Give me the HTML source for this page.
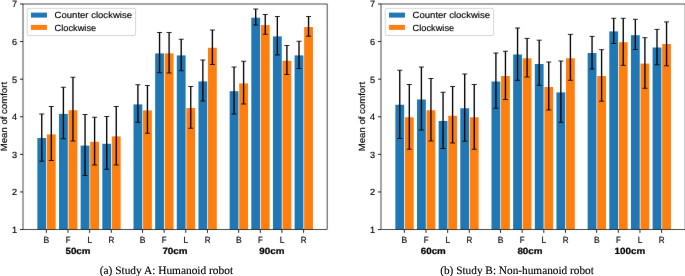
<!DOCTYPE html>
<html lang="en">
<head>
<meta charset="utf-8">
<title>Mean of comfort</title>
<style>
html,body{margin:0;padding:0;background:#fff;}
body{width:685px;height:276px;overflow:hidden;font-family:"Liberation Sans",sans-serif;}
svg{display:block;will-change:transform;text-rendering:geometricPrecision;}
</style>
</head>
<body>
<svg width="685" height="276" viewBox="0 0 685 276">
<defs><filter id="b" filterUnits="userSpaceOnUse" x="-5" y="-5" width="695" height="286" color-interpolation-filters="sRGB"><feConvolveMatrix order="3" kernelMatrix="0.00160 0.03680 0.00160 0.03680 0.84640 0.03680 0.00160 0.03680 0.00160" divisor="1" edgeMode="duplicate" preserveAlpha="true"/></filter></defs>
<rect width="685" height="276" fill="#fff"/>
<g filter="url(#b)">
<rect x="-5" y="-5" width="695" height="286" fill="#fff"/>
<g transform="translate(0,0)">
<rect x="37.35" y="138" width="8.8" height="91.55" fill="#1f77b4"/>
<rect x="46.9" y="134.4" width="8.8" height="95.15" fill="#ff7f0e"/>
<rect x="59" y="113.9" width="8.8" height="115.65" fill="#1f77b4"/>
<rect x="68.55" y="110.2" width="8.8" height="119.35" fill="#ff7f0e"/>
<rect x="80.65" y="145.6" width="8.8" height="83.95" fill="#1f77b4"/>
<rect x="90.2" y="141.8" width="8.8" height="87.75" fill="#ff7f0e"/>
<rect x="102.3" y="143.8" width="8.8" height="85.75" fill="#1f77b4"/>
<rect x="111.85" y="136.4" width="8.8" height="93.15" fill="#ff7f0e"/>
<rect x="133.5" y="104.4" width="8.8" height="125.15" fill="#1f77b4"/>
<rect x="143.05" y="110.4" width="8.8" height="119.15" fill="#ff7f0e"/>
<rect x="155.15" y="53.4" width="8.8" height="176.15" fill="#1f77b4"/>
<rect x="164.7" y="53.4" width="8.8" height="176.15" fill="#ff7f0e"/>
<rect x="176.8" y="55.4" width="8.8" height="174.15" fill="#1f77b4"/>
<rect x="186.35" y="108" width="8.8" height="121.55" fill="#ff7f0e"/>
<rect x="198.45" y="81.4" width="8.8" height="148.15" fill="#1f77b4"/>
<rect x="208" y="47.8" width="8.8" height="181.75" fill="#ff7f0e"/>
<rect x="229.65" y="91.2" width="8.8" height="138.35" fill="#1f77b4"/>
<rect x="239.2" y="83.4" width="8.8" height="146.15" fill="#ff7f0e"/>
<rect x="251.3" y="17.7" width="8.8" height="211.85" fill="#1f77b4"/>
<rect x="260.85" y="25.1" width="8.8" height="204.45" fill="#ff7f0e"/>
<rect x="272.95" y="36.4" width="8.8" height="193.15" fill="#1f77b4"/>
<rect x="282.5" y="60.8" width="8.8" height="168.75" fill="#ff7f0e"/>
<rect x="294.6" y="55.4" width="8.8" height="174.15" fill="#1f77b4"/>
<rect x="304.15" y="27" width="8.8" height="202.55" fill="#ff7f0e"/>
<path d="M41.75 114V161.25" stroke="#000" stroke-width="1.35" fill="none"/>
<path d="M39.25 114H44.25M39.25 161.25H44.25" stroke="#000" stroke-width="0.85" fill="none"/>
<path d="M51.3 106.5V160.5" stroke="#000" stroke-width="1.35" fill="none"/>
<path d="M48.8 106.5H53.8M48.8 160.5H53.8" stroke="#000" stroke-width="0.85" fill="none"/>
<path d="M63.4 87.25V138.75" stroke="#000" stroke-width="1.35" fill="none"/>
<path d="M60.9 87.25H65.9M60.9 138.75H65.9" stroke="#000" stroke-width="0.85" fill="none"/>
<path d="M72.95 77.25V141" stroke="#000" stroke-width="1.35" fill="none"/>
<path d="M70.45 77.25H75.45M70.45 141H75.45" stroke="#000" stroke-width="0.85" fill="none"/>
<path d="M85.05 114.5V175.5" stroke="#000" stroke-width="1.35" fill="none"/>
<path d="M82.55 114.5H87.55M82.55 175.5H87.55" stroke="#000" stroke-width="0.85" fill="none"/>
<path d="M94.6 117.25V165" stroke="#000" stroke-width="1.35" fill="none"/>
<path d="M92.1 117.25H97.1M92.1 165H97.1" stroke="#000" stroke-width="0.85" fill="none"/>
<path d="M106.7 116.5V169.25" stroke="#000" stroke-width="1.35" fill="none"/>
<path d="M104.2 116.5H109.2M104.2 169.25H109.2" stroke="#000" stroke-width="0.85" fill="none"/>
<path d="M116.25 106.5V165" stroke="#000" stroke-width="1.35" fill="none"/>
<path d="M113.75 106.5H118.75M113.75 165H118.75" stroke="#000" stroke-width="0.85" fill="none"/>
<path d="M137.9 84.75V122.25" stroke="#000" stroke-width="1.35" fill="none"/>
<path d="M135.4 84.75H140.4M135.4 122.25H140.4" stroke="#000" stroke-width="0.85" fill="none"/>
<path d="M147.45 85.5V133.25" stroke="#000" stroke-width="1.35" fill="none"/>
<path d="M144.95 85.5H149.95M144.95 133.25H149.95" stroke="#000" stroke-width="0.85" fill="none"/>
<path d="M159.55 32.5V72.75" stroke="#000" stroke-width="1.35" fill="none"/>
<path d="M157.05 32.5H162.05M157.05 72.75H162.05" stroke="#000" stroke-width="0.85" fill="none"/>
<path d="M169.1 32.5V73" stroke="#000" stroke-width="1.35" fill="none"/>
<path d="M166.6 32.5H171.6M166.6 73H171.6" stroke="#000" stroke-width="0.85" fill="none"/>
<path d="M181.2 39.25V70.75" stroke="#000" stroke-width="1.35" fill="none"/>
<path d="M178.7 39.25H183.7M178.7 70.75H183.7" stroke="#000" stroke-width="0.85" fill="none"/>
<path d="M190.75 86.5V128.25" stroke="#000" stroke-width="1.35" fill="none"/>
<path d="M188.25 86.5H193.25M188.25 128.25H193.25" stroke="#000" stroke-width="0.85" fill="none"/>
<path d="M202.85 60V101" stroke="#000" stroke-width="1.35" fill="none"/>
<path d="M200.35 60H205.35M200.35 101H205.35" stroke="#000" stroke-width="0.85" fill="none"/>
<path d="M212.4 30V64.5" stroke="#000" stroke-width="1.35" fill="none"/>
<path d="M209.9 30H214.9M209.9 64.5H214.9" stroke="#000" stroke-width="0.85" fill="none"/>
<path d="M234.05 67V114" stroke="#000" stroke-width="1.35" fill="none"/>
<path d="M231.55 67H236.55M231.55 114H236.55" stroke="#000" stroke-width="0.85" fill="none"/>
<path d="M243.6 61.25V104" stroke="#000" stroke-width="1.35" fill="none"/>
<path d="M241.1 61.25H246.1M241.1 104H246.1" stroke="#000" stroke-width="0.85" fill="none"/>
<path d="M255.7 9V25" stroke="#000" stroke-width="1.35" fill="none"/>
<path d="M253.2 9H258.2M253.2 25H258.2" stroke="#000" stroke-width="0.85" fill="none"/>
<path d="M265.25 14.5V34.25" stroke="#000" stroke-width="1.35" fill="none"/>
<path d="M262.75 14.5H267.75M262.75 34.25H267.75" stroke="#000" stroke-width="0.85" fill="none"/>
<path d="M277.35 16.5V55" stroke="#000" stroke-width="1.35" fill="none"/>
<path d="M274.85 16.5H279.85M274.85 55H279.85" stroke="#000" stroke-width="0.85" fill="none"/>
<path d="M286.9 45.5V74.5" stroke="#000" stroke-width="1.35" fill="none"/>
<path d="M284.4 45.5H289.4M284.4 74.5H289.4" stroke="#000" stroke-width="0.85" fill="none"/>
<path d="M299 41.25V68.5" stroke="#000" stroke-width="1.35" fill="none"/>
<path d="M296.5 41.25H301.5M296.5 68.5H301.5" stroke="#000" stroke-width="0.85" fill="none"/>
<path d="M308.55 16.5V36.25" stroke="#000" stroke-width="1.35" fill="none"/>
<path d="M306.05 16.5H311.05M306.05 36.25H311.05" stroke="#000" stroke-width="0.85" fill="none"/>
<rect x="23" y="4" width="304.15" height="225.55" fill="none" stroke="#000" stroke-width="0.7"/>
<path d="M20 229.55H23" stroke="#000" stroke-width="0.85"/>
<text x="17.2" y="233" text-anchor="end" font-family="Liberation Sans, sans-serif" stroke="#000" stroke-linejoin="round" stroke-width="0.16" font-size="9.0" textLength="5.1" lengthAdjust="spacingAndGlyphs" fill="#000">1</text>
<path d="M20 191.96H23" stroke="#000" stroke-width="0.85"/>
<text x="17.2" y="195.41" text-anchor="end" font-family="Liberation Sans, sans-serif" stroke="#000" stroke-linejoin="round" stroke-width="0.16" font-size="9.0" textLength="5.1" lengthAdjust="spacingAndGlyphs" fill="#000">2</text>
<path d="M20 154.37H23" stroke="#000" stroke-width="0.85"/>
<text x="17.2" y="157.82" text-anchor="end" font-family="Liberation Sans, sans-serif" stroke="#000" stroke-linejoin="round" stroke-width="0.16" font-size="9.0" textLength="5.1" lengthAdjust="spacingAndGlyphs" fill="#000">3</text>
<path d="M20 116.77H23" stroke="#000" stroke-width="0.85"/>
<text x="17.2" y="120.22" text-anchor="end" font-family="Liberation Sans, sans-serif" stroke="#000" stroke-linejoin="round" stroke-width="0.16" font-size="9.0" textLength="5.1" lengthAdjust="spacingAndGlyphs" fill="#000">4</text>
<path d="M20 79.18H23" stroke="#000" stroke-width="0.85"/>
<text x="17.2" y="82.63" text-anchor="end" font-family="Liberation Sans, sans-serif" stroke="#000" stroke-linejoin="round" stroke-width="0.16" font-size="9.0" textLength="5.1" lengthAdjust="spacingAndGlyphs" fill="#000">5</text>
<path d="M20 41.59H23" stroke="#000" stroke-width="0.85"/>
<text x="17.2" y="45.04" text-anchor="end" font-family="Liberation Sans, sans-serif" stroke="#000" stroke-linejoin="round" stroke-width="0.16" font-size="9.0" textLength="5.1" lengthAdjust="spacingAndGlyphs" fill="#000">6</text>
<path d="M20 4H23" stroke="#000" stroke-width="0.85"/>
<text x="17.2" y="7.45" text-anchor="end" font-family="Liberation Sans, sans-serif" stroke="#000" stroke-linejoin="round" stroke-width="0.16" font-size="9.0" textLength="5.1" lengthAdjust="spacingAndGlyphs" fill="#000">7</text>
<path d="M46.35 229.55V232.85" stroke="#000" stroke-width="0.85"/>
<text x="43.58" y="242.8" font-family="Liberation Sans, sans-serif" stroke="#000" stroke-linejoin="round" stroke-width="0.16" font-size="9.0" textLength="5.75" lengthAdjust="spacingAndGlyphs" fill="#000">B</text>
<path d="M68 229.55V232.85" stroke="#000" stroke-width="0.85"/>
<text x="65.7" y="242.8" font-family="Liberation Sans, sans-serif" stroke="#000" stroke-linejoin="round" stroke-width="0.16" font-size="9.0" textLength="4.8" lengthAdjust="spacingAndGlyphs" fill="#000">F</text>
<path d="M89.65 229.55V232.85" stroke="#000" stroke-width="0.85"/>
<text x="87.42" y="242.8" font-family="Liberation Sans, sans-serif" stroke="#000" stroke-linejoin="round" stroke-width="0.16" font-size="9.0" textLength="4.65" lengthAdjust="spacingAndGlyphs" fill="#000">L</text>
<path d="M111.3 229.55V232.85" stroke="#000" stroke-width="0.85"/>
<text x="108.5" y="242.8" font-family="Liberation Sans, sans-serif" stroke="#000" stroke-linejoin="round" stroke-width="0.16" font-size="9.0" textLength="5.8" lengthAdjust="spacingAndGlyphs" fill="#000">R</text>
<path d="M142.5 229.55V232.85" stroke="#000" stroke-width="0.85"/>
<text x="139.72" y="242.8" font-family="Liberation Sans, sans-serif" stroke="#000" stroke-linejoin="round" stroke-width="0.16" font-size="9.0" textLength="5.75" lengthAdjust="spacingAndGlyphs" fill="#000">B</text>
<path d="M164.15 229.55V232.85" stroke="#000" stroke-width="0.85"/>
<text x="161.85" y="242.8" font-family="Liberation Sans, sans-serif" stroke="#000" stroke-linejoin="round" stroke-width="0.16" font-size="9.0" textLength="4.8" lengthAdjust="spacingAndGlyphs" fill="#000">F</text>
<path d="M185.8 229.55V232.85" stroke="#000" stroke-width="0.85"/>
<text x="183.58" y="242.8" font-family="Liberation Sans, sans-serif" stroke="#000" stroke-linejoin="round" stroke-width="0.16" font-size="9.0" textLength="4.65" lengthAdjust="spacingAndGlyphs" fill="#000">L</text>
<path d="M207.45 229.55V232.85" stroke="#000" stroke-width="0.85"/>
<text x="204.65" y="242.8" font-family="Liberation Sans, sans-serif" stroke="#000" stroke-linejoin="round" stroke-width="0.16" font-size="9.0" textLength="5.8" lengthAdjust="spacingAndGlyphs" fill="#000">R</text>
<path d="M238.65 229.55V232.85" stroke="#000" stroke-width="0.85"/>
<text x="235.88" y="242.8" font-family="Liberation Sans, sans-serif" stroke="#000" stroke-linejoin="round" stroke-width="0.16" font-size="9.0" textLength="5.75" lengthAdjust="spacingAndGlyphs" fill="#000">B</text>
<path d="M260.3 229.55V232.85" stroke="#000" stroke-width="0.85"/>
<text x="258" y="242.8" font-family="Liberation Sans, sans-serif" stroke="#000" stroke-linejoin="round" stroke-width="0.16" font-size="9.0" textLength="4.8" lengthAdjust="spacingAndGlyphs" fill="#000">F</text>
<path d="M281.95 229.55V232.85" stroke="#000" stroke-width="0.85"/>
<text x="279.73" y="242.8" font-family="Liberation Sans, sans-serif" stroke="#000" stroke-linejoin="round" stroke-width="0.16" font-size="9.0" textLength="4.65" lengthAdjust="spacingAndGlyphs" fill="#000">L</text>
<path d="M303.6 229.55V232.85" stroke="#000" stroke-width="0.85"/>
<text x="300.8" y="242.8" font-family="Liberation Sans, sans-serif" stroke="#000" stroke-linejoin="round" stroke-width="0.16" font-size="9.0" textLength="5.8" lengthAdjust="spacingAndGlyphs" fill="#000">R</text>
<text x="65.5" y="253.9" font-family="Liberation Sans, sans-serif" stroke="#000" stroke-linejoin="round" stroke-width="0.22" font-weight="bold" font-size="9.0" textLength="25.0" lengthAdjust="spacingAndGlyphs" fill="#000">50cm</text>
<text x="162.4" y="253.9" font-family="Liberation Sans, sans-serif" stroke="#000" stroke-linejoin="round" stroke-width="0.22" font-weight="bold" font-size="9.0" textLength="25.2" lengthAdjust="spacingAndGlyphs" fill="#000">70cm</text>
<text x="259.3" y="253.9" font-family="Liberation Sans, sans-serif" stroke="#000" stroke-linejoin="round" stroke-width="0.22" font-weight="bold" font-size="9.0" textLength="25.2" lengthAdjust="spacingAndGlyphs" fill="#000">90cm</text>
<text transform="translate(7.0,151.25) rotate(-90)" font-family="Liberation Sans, sans-serif" stroke="#000" stroke-linejoin="round" stroke-width="0.16" font-size="9.0" textLength="69.3" lengthAdjust="spacingAndGlyphs" fill="#000">Mean of comfort</text>
<rect x="27.2" y="8.35" width="108.4" height="27.2" rx="1.6" ry="1.6" fill="#fff" fill-opacity="0.8" stroke="#ccc" stroke-width="0.8"/>
<rect x="31" y="12.6" width="16" height="5.0" fill="#1f77b4"/>
<rect x="31" y="24.9" width="16" height="5.0" fill="#ff7f0e"/>
<text x="54.6" y="18.3" font-family="Liberation Sans, sans-serif" stroke="#000" stroke-linejoin="round" stroke-width="0.16" font-size="9.0" textLength="77.4" lengthAdjust="spacingAndGlyphs" fill="#000">Counter clockwise</text>
<text x="54.6" y="30.75" font-family="Liberation Sans, sans-serif" stroke="#000" stroke-linejoin="round" stroke-width="0.16" font-size="9.0" textLength="41.6" lengthAdjust="spacingAndGlyphs" fill="#000">Clockwise</text>
</g>
<g transform="translate(358,0)">
<rect x="37.35" y="104.75" width="8.8" height="124.8" fill="#1f77b4"/>
<rect x="46.9" y="117.25" width="8.8" height="112.3" fill="#ff7f0e"/>
<rect x="59" y="99.5" width="8.8" height="130.05" fill="#1f77b4"/>
<rect x="68.55" y="110.25" width="8.8" height="119.3" fill="#ff7f0e"/>
<rect x="80.65" y="121" width="8.8" height="108.55" fill="#1f77b4"/>
<rect x="90.2" y="115.75" width="8.8" height="113.8" fill="#ff7f0e"/>
<rect x="102.3" y="108.25" width="8.8" height="121.3" fill="#1f77b4"/>
<rect x="111.85" y="117.25" width="8.8" height="112.3" fill="#ff7f0e"/>
<rect x="133.5" y="81.5" width="8.8" height="148.05" fill="#1f77b4"/>
<rect x="143.05" y="76" width="8.8" height="153.55" fill="#ff7f0e"/>
<rect x="155.15" y="54.5" width="8.8" height="175.05" fill="#1f77b4"/>
<rect x="164.7" y="58.3" width="8.8" height="171.25" fill="#ff7f0e"/>
<rect x="176.8" y="64" width="8.8" height="165.55" fill="#1f77b4"/>
<rect x="186.35" y="87" width="8.8" height="142.55" fill="#ff7f0e"/>
<rect x="198.45" y="92.4" width="8.8" height="137.15" fill="#1f77b4"/>
<rect x="208" y="58.3" width="8.8" height="171.25" fill="#ff7f0e"/>
<rect x="229.65" y="53" width="8.8" height="176.55" fill="#1f77b4"/>
<rect x="239.2" y="76" width="8.8" height="153.55" fill="#ff7f0e"/>
<rect x="251.3" y="31.4" width="8.8" height="198.15" fill="#1f77b4"/>
<rect x="260.85" y="42.2" width="8.8" height="187.35" fill="#ff7f0e"/>
<rect x="272.95" y="35.2" width="8.8" height="194.35" fill="#1f77b4"/>
<rect x="282.5" y="63.6" width="8.8" height="165.95" fill="#ff7f0e"/>
<rect x="294.6" y="47.5" width="8.8" height="182.05" fill="#1f77b4"/>
<rect x="304.15" y="44" width="8.8" height="185.55" fill="#ff7f0e"/>
<path d="M41.75 70.25V138.5" stroke="#000" stroke-width="1.35" fill="none"/>
<path d="M39.25 70.25H44.25M39.25 138.5H44.25" stroke="#000" stroke-width="0.85" fill="none"/>
<path d="M51.3 84.5V149.25" stroke="#000" stroke-width="1.35" fill="none"/>
<path d="M48.8 84.5H53.8M48.8 149.25H53.8" stroke="#000" stroke-width="0.85" fill="none"/>
<path d="M63.4 67V130" stroke="#000" stroke-width="1.35" fill="none"/>
<path d="M60.9 67H65.9M60.9 130H65.9" stroke="#000" stroke-width="0.85" fill="none"/>
<path d="M72.95 78.5V141" stroke="#000" stroke-width="1.35" fill="none"/>
<path d="M70.45 78.5H75.45M70.45 141H75.45" stroke="#000" stroke-width="0.85" fill="none"/>
<path d="M85.05 92.25V148.5" stroke="#000" stroke-width="1.35" fill="none"/>
<path d="M82.55 92.25H87.55M82.55 148.5H87.55" stroke="#000" stroke-width="0.85" fill="none"/>
<path d="M94.6 86.5V143" stroke="#000" stroke-width="1.35" fill="none"/>
<path d="M92.1 86.5H97.1M92.1 143H97.1" stroke="#000" stroke-width="0.85" fill="none"/>
<path d="M106.7 74V141.25" stroke="#000" stroke-width="1.35" fill="none"/>
<path d="M104.2 74H109.2M104.2 141.25H109.2" stroke="#000" stroke-width="0.85" fill="none"/>
<path d="M116.25 84.5V149.25" stroke="#000" stroke-width="1.35" fill="none"/>
<path d="M113.75 84.5H118.75M113.75 149.25H118.75" stroke="#000" stroke-width="0.85" fill="none"/>
<path d="M137.9 53V108.25" stroke="#000" stroke-width="1.35" fill="none"/>
<path d="M135.4 53H140.4M135.4 108.25H140.4" stroke="#000" stroke-width="0.85" fill="none"/>
<path d="M147.45 51.25V99.5" stroke="#000" stroke-width="1.35" fill="none"/>
<path d="M144.95 51.25H149.95M144.95 99.5H149.95" stroke="#000" stroke-width="0.85" fill="none"/>
<path d="M159.55 28V80.3" stroke="#000" stroke-width="1.35" fill="none"/>
<path d="M157.05 28H162.05M157.05 80.3H162.05" stroke="#000" stroke-width="0.85" fill="none"/>
<path d="M169.1 38.4V77" stroke="#000" stroke-width="1.35" fill="none"/>
<path d="M166.6 38.4H171.6M166.6 77H171.6" stroke="#000" stroke-width="0.85" fill="none"/>
<path d="M181.2 40.2V85.3" stroke="#000" stroke-width="1.35" fill="none"/>
<path d="M178.7 40.2H183.7M178.7 85.3H183.7" stroke="#000" stroke-width="0.85" fill="none"/>
<path d="M190.75 62V110" stroke="#000" stroke-width="1.35" fill="none"/>
<path d="M188.25 62H193.25M188.25 110H193.25" stroke="#000" stroke-width="0.85" fill="none"/>
<path d="M202.85 61V122.3" stroke="#000" stroke-width="1.35" fill="none"/>
<path d="M200.35 61H205.35M200.35 122.3H205.35" stroke="#000" stroke-width="0.85" fill="none"/>
<path d="M212.4 34.4V80.3" stroke="#000" stroke-width="1.35" fill="none"/>
<path d="M209.9 34.4H214.9M209.9 80.3H214.9" stroke="#000" stroke-width="0.85" fill="none"/>
<path d="M234.05 36.4V69" stroke="#000" stroke-width="1.35" fill="none"/>
<path d="M231.55 36.4H236.55M231.55 69H236.55" stroke="#000" stroke-width="0.85" fill="none"/>
<path d="M243.6 49.7V101.2" stroke="#000" stroke-width="1.35" fill="none"/>
<path d="M241.1 49.7H246.1M241.1 101.2H246.1" stroke="#000" stroke-width="0.85" fill="none"/>
<path d="M255.7 18.3V43.5" stroke="#000" stroke-width="1.35" fill="none"/>
<path d="M253.2 18.3H258.2M253.2 43.5H258.2" stroke="#000" stroke-width="0.85" fill="none"/>
<path d="M265.25 18.3V65.3" stroke="#000" stroke-width="1.35" fill="none"/>
<path d="M262.75 18.3H267.75M262.75 65.3H267.75" stroke="#000" stroke-width="0.85" fill="none"/>
<path d="M277.35 19.3V49.5" stroke="#000" stroke-width="1.35" fill="none"/>
<path d="M274.85 19.3H279.85M274.85 49.5H279.85" stroke="#000" stroke-width="0.85" fill="none"/>
<path d="M286.9 37.7V88.3" stroke="#000" stroke-width="1.35" fill="none"/>
<path d="M284.4 37.7H289.4M284.4 88.3H289.4" stroke="#000" stroke-width="0.85" fill="none"/>
<path d="M299 29.4V64.8" stroke="#000" stroke-width="1.35" fill="none"/>
<path d="M296.5 29.4H301.5M296.5 64.8H301.5" stroke="#000" stroke-width="0.85" fill="none"/>
<path d="M308.55 21.9V65.8" stroke="#000" stroke-width="1.35" fill="none"/>
<path d="M306.05 21.9H311.05M306.05 65.8H311.05" stroke="#000" stroke-width="0.85" fill="none"/>
<rect x="23" y="4" width="304.15" height="225.55" fill="none" stroke="#000" stroke-width="0.7"/>
<path d="M20 229.55H23" stroke="#000" stroke-width="0.85"/>
<text x="17.2" y="233" text-anchor="end" font-family="Liberation Sans, sans-serif" stroke="#000" stroke-linejoin="round" stroke-width="0.16" font-size="9.0" textLength="5.1" lengthAdjust="spacingAndGlyphs" fill="#000">1</text>
<path d="M20 191.96H23" stroke="#000" stroke-width="0.85"/>
<text x="17.2" y="195.41" text-anchor="end" font-family="Liberation Sans, sans-serif" stroke="#000" stroke-linejoin="round" stroke-width="0.16" font-size="9.0" textLength="5.1" lengthAdjust="spacingAndGlyphs" fill="#000">2</text>
<path d="M20 154.37H23" stroke="#000" stroke-width="0.85"/>
<text x="17.2" y="157.82" text-anchor="end" font-family="Liberation Sans, sans-serif" stroke="#000" stroke-linejoin="round" stroke-width="0.16" font-size="9.0" textLength="5.1" lengthAdjust="spacingAndGlyphs" fill="#000">3</text>
<path d="M20 116.77H23" stroke="#000" stroke-width="0.85"/>
<text x="17.2" y="120.22" text-anchor="end" font-family="Liberation Sans, sans-serif" stroke="#000" stroke-linejoin="round" stroke-width="0.16" font-size="9.0" textLength="5.1" lengthAdjust="spacingAndGlyphs" fill="#000">4</text>
<path d="M20 79.18H23" stroke="#000" stroke-width="0.85"/>
<text x="17.2" y="82.63" text-anchor="end" font-family="Liberation Sans, sans-serif" stroke="#000" stroke-linejoin="round" stroke-width="0.16" font-size="9.0" textLength="5.1" lengthAdjust="spacingAndGlyphs" fill="#000">5</text>
<path d="M20 41.59H23" stroke="#000" stroke-width="0.85"/>
<text x="17.2" y="45.04" text-anchor="end" font-family="Liberation Sans, sans-serif" stroke="#000" stroke-linejoin="round" stroke-width="0.16" font-size="9.0" textLength="5.1" lengthAdjust="spacingAndGlyphs" fill="#000">6</text>
<path d="M20 4H23" stroke="#000" stroke-width="0.85"/>
<text x="17.2" y="7.45" text-anchor="end" font-family="Liberation Sans, sans-serif" stroke="#000" stroke-linejoin="round" stroke-width="0.16" font-size="9.0" textLength="5.1" lengthAdjust="spacingAndGlyphs" fill="#000">7</text>
<path d="M46.35 229.55V232.85" stroke="#000" stroke-width="0.85"/>
<text x="43.58" y="242.8" font-family="Liberation Sans, sans-serif" stroke="#000" stroke-linejoin="round" stroke-width="0.16" font-size="9.0" textLength="5.75" lengthAdjust="spacingAndGlyphs" fill="#000">B</text>
<path d="M68 229.55V232.85" stroke="#000" stroke-width="0.85"/>
<text x="65.7" y="242.8" font-family="Liberation Sans, sans-serif" stroke="#000" stroke-linejoin="round" stroke-width="0.16" font-size="9.0" textLength="4.8" lengthAdjust="spacingAndGlyphs" fill="#000">F</text>
<path d="M89.65 229.55V232.85" stroke="#000" stroke-width="0.85"/>
<text x="87.42" y="242.8" font-family="Liberation Sans, sans-serif" stroke="#000" stroke-linejoin="round" stroke-width="0.16" font-size="9.0" textLength="4.65" lengthAdjust="spacingAndGlyphs" fill="#000">L</text>
<path d="M111.3 229.55V232.85" stroke="#000" stroke-width="0.85"/>
<text x="108.5" y="242.8" font-family="Liberation Sans, sans-serif" stroke="#000" stroke-linejoin="round" stroke-width="0.16" font-size="9.0" textLength="5.8" lengthAdjust="spacingAndGlyphs" fill="#000">R</text>
<path d="M142.5 229.55V232.85" stroke="#000" stroke-width="0.85"/>
<text x="139.72" y="242.8" font-family="Liberation Sans, sans-serif" stroke="#000" stroke-linejoin="round" stroke-width="0.16" font-size="9.0" textLength="5.75" lengthAdjust="spacingAndGlyphs" fill="#000">B</text>
<path d="M164.15 229.55V232.85" stroke="#000" stroke-width="0.85"/>
<text x="161.85" y="242.8" font-family="Liberation Sans, sans-serif" stroke="#000" stroke-linejoin="round" stroke-width="0.16" font-size="9.0" textLength="4.8" lengthAdjust="spacingAndGlyphs" fill="#000">F</text>
<path d="M185.8 229.55V232.85" stroke="#000" stroke-width="0.85"/>
<text x="183.58" y="242.8" font-family="Liberation Sans, sans-serif" stroke="#000" stroke-linejoin="round" stroke-width="0.16" font-size="9.0" textLength="4.65" lengthAdjust="spacingAndGlyphs" fill="#000">L</text>
<path d="M207.45 229.55V232.85" stroke="#000" stroke-width="0.85"/>
<text x="204.65" y="242.8" font-family="Liberation Sans, sans-serif" stroke="#000" stroke-linejoin="round" stroke-width="0.16" font-size="9.0" textLength="5.8" lengthAdjust="spacingAndGlyphs" fill="#000">R</text>
<path d="M238.65 229.55V232.85" stroke="#000" stroke-width="0.85"/>
<text x="235.88" y="242.8" font-family="Liberation Sans, sans-serif" stroke="#000" stroke-linejoin="round" stroke-width="0.16" font-size="9.0" textLength="5.75" lengthAdjust="spacingAndGlyphs" fill="#000">B</text>
<path d="M260.3 229.55V232.85" stroke="#000" stroke-width="0.85"/>
<text x="258" y="242.8" font-family="Liberation Sans, sans-serif" stroke="#000" stroke-linejoin="round" stroke-width="0.16" font-size="9.0" textLength="4.8" lengthAdjust="spacingAndGlyphs" fill="#000">F</text>
<path d="M281.95 229.55V232.85" stroke="#000" stroke-width="0.85"/>
<text x="279.73" y="242.8" font-family="Liberation Sans, sans-serif" stroke="#000" stroke-linejoin="round" stroke-width="0.16" font-size="9.0" textLength="4.65" lengthAdjust="spacingAndGlyphs" fill="#000">L</text>
<path d="M303.6 229.55V232.85" stroke="#000" stroke-width="0.85"/>
<text x="300.8" y="242.8" font-family="Liberation Sans, sans-serif" stroke="#000" stroke-linejoin="round" stroke-width="0.16" font-size="9.0" textLength="5.8" lengthAdjust="spacingAndGlyphs" fill="#000">R</text>
<text x="62.8" y="253.9" font-family="Liberation Sans, sans-serif" stroke="#000" stroke-linejoin="round" stroke-width="0.22" font-weight="bold" font-size="9.0" textLength="25.0" lengthAdjust="spacingAndGlyphs" fill="#000">60cm</text>
<text x="159.4" y="253.9" font-family="Liberation Sans, sans-serif" stroke="#000" stroke-linejoin="round" stroke-width="0.22" font-weight="bold" font-size="9.0" textLength="25.2" lengthAdjust="spacingAndGlyphs" fill="#000">80cm</text>
<text x="256.6" y="253.9" font-family="Liberation Sans, sans-serif" stroke="#000" stroke-linejoin="round" stroke-width="0.22" font-weight="bold" font-size="9.0" textLength="30.7" lengthAdjust="spacingAndGlyphs" fill="#000">100cm</text>
<text transform="translate(7.0,151.25) rotate(-90)" font-family="Liberation Sans, sans-serif" stroke="#000" stroke-linejoin="round" stroke-width="0.16" font-size="9.0" textLength="69.3" lengthAdjust="spacingAndGlyphs" fill="#000">Mean of comfort</text>
<rect x="27.2" y="8.35" width="108.4" height="27.2" rx="1.6" ry="1.6" fill="#fff" fill-opacity="0.8" stroke="#ccc" stroke-width="0.8"/>
<rect x="31" y="12.6" width="16" height="5.0" fill="#1f77b4"/>
<rect x="31" y="24.9" width="16" height="5.0" fill="#ff7f0e"/>
<text x="54.6" y="18.3" font-family="Liberation Sans, sans-serif" stroke="#000" stroke-linejoin="round" stroke-width="0.16" font-size="9.0" textLength="77.4" lengthAdjust="spacingAndGlyphs" fill="#000">Counter clockwise</text>
<text x="54.6" y="30.75" font-family="Liberation Sans, sans-serif" stroke="#000" stroke-linejoin="round" stroke-width="0.16" font-size="9.0" textLength="41.6" lengthAdjust="spacingAndGlyphs" fill="#000">Clockwise</text>
</g>
</g>
<text x="99.7" y="273.9" font-family="Liberation Serif, serif" stroke="#000" stroke-width="0.12" font-size="11.35" textLength="133.4" lengthAdjust="spacingAndGlyphs" fill="#000">(a) Study A: Humanoid robot</text>
<text x="440.2" y="273.9" font-family="Liberation Serif, serif" stroke="#000" stroke-width="0.12" font-size="11.35" textLength="153.7" lengthAdjust="spacingAndGlyphs" fill="#000">(b) Study B: Non-humanoid robot</text>
</svg>
</body>
</html>
